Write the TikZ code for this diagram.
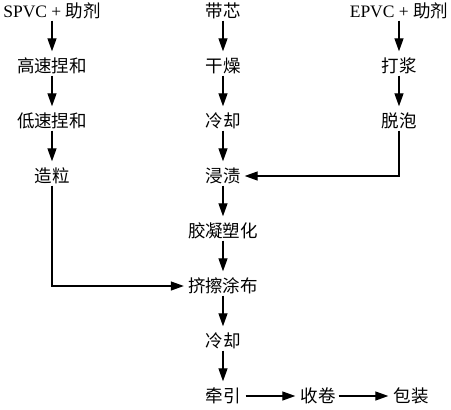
\documentclass[tikz,border=0pt]{standalone}
\usepackage{fontspec}
\setmainfont{Liberation Serif}
\newfontfamily\cjk{Noto Sans CJK SC}
\usetikzlibrary{arrows.meta}
\begin{document}
\begin{tikzpicture}[x=1pt,y=-1pt,
  lbl/.style={inner sep=0pt, text height=13.5pt, text depth=1.5pt, font=\fontsize{17.5}{17.5}\selectfont},
  arr/.style={line width=1.3pt, -{Triangle[length=13pt,width=9pt]}, shorten <=2pt, shorten >=7pt}]
\useasboundingbox (0,0) rectangle (451,410);
% column 1
\node[lbl] (s1) at (52,11) {SPVC + {\cjk 助剂}};
\node[lbl] (s2) at (52,66) {\cjk 高速捏和};
\node[lbl] (s3) at (52,121) {\cjk 低速捏和};
\node[lbl] (s4) at (52,176) {\cjk 造粒};
% column 2
\node[lbl] (c1) at (223,11) {\cjk 带芯};
\node[lbl] (c2) at (223,66) {\cjk 干燥};
\node[lbl] (c3) at (223,121) {\cjk 冷却};
\node[lbl] (c4) at (223,176) {\cjk 浸渍};
\node[lbl] (c5) at (223,231) {\cjk 胶凝塑化};
\node[lbl] (c6) at (223,286) {\cjk 挤擦涂布};
\node[lbl] (c7) at (223,341) {\cjk 冷却};
\node[lbl] (c8) at (223,396) {\cjk 牵引};
% column 3
\node[lbl] (e1) at (399,11) {EPVC + {\cjk 助剂}};
\node[lbl] (e2) at (399,66) {\cjk 打浆};
\node[lbl] (e3) at (399,121) {\cjk 脱泡};
% bottom row
\node[lbl] (r1) at (318,396) {\cjk 收卷};
\node[lbl] (r2) at (411,396) {\cjk 包装};
% connectors
\draw[arr] (s1) -- (s2);
\draw[arr] (s2) -- (s3);
\draw[arr] (s3) -- (s4);
\draw[arr] (c1) -- (c2);
\draw[arr] (c2) -- (c3);
\draw[arr] (c3) -- (c4);
\draw[arr] (c4) -- (c5);
\draw[arr] (c5) -- (c6);
\draw[arr] (c6) -- (c7);
\draw[arr] (c7) -- (c8);
\draw[arr] (e1) -- (e2);
\draw[arr] (e2) -- (e3);
\draw[arr, shorten >=4pt] (s4) |- (c6);
\draw[arr, shorten >=4pt] (e3) |- (c4);
\draw[arr, shorten <=5pt, shorten >=5pt] (c8) -- (r1);
\draw[arr, shorten <=3pt, shorten >=5pt] (r1) -- (r2);
\end{tikzpicture}
\end{document}
